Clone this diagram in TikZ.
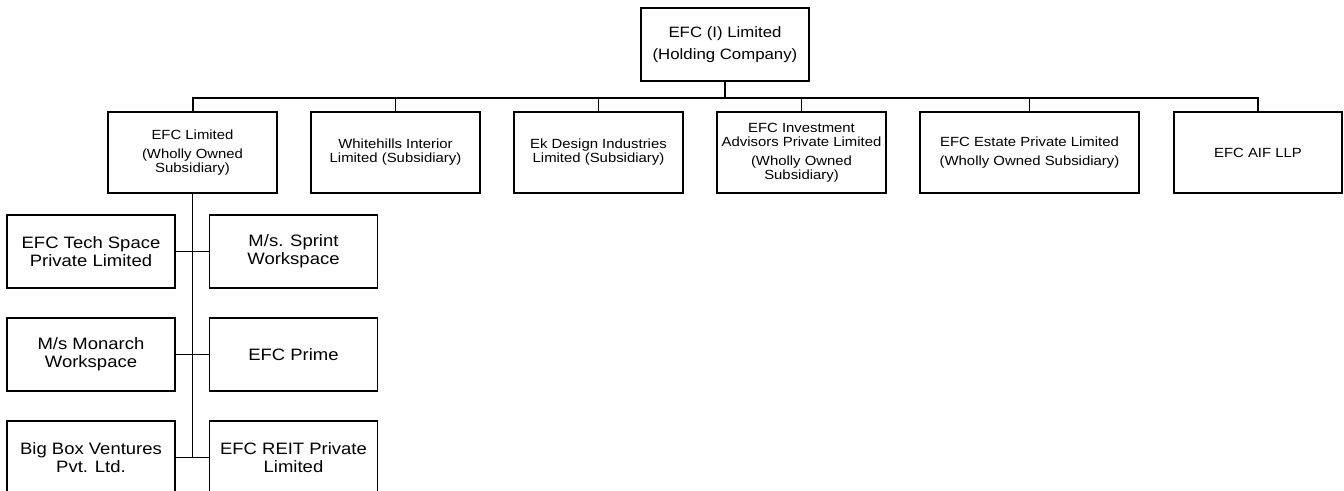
\documentclass[tikz,border=0pt]{standalone}
\usepackage{fontspec}
\setmainfont[FakeStretch=1.12]{Liberation Sans}
\usetikzlibrary{positioning}

\begin{document}
\begin{tikzpicture}[x=1pt,y=-1pt,node distance=203pt,on grid,
	box/.style={draw,line width=1.3pt,align=center,inner sep=0pt},
	top/.style={box,minimum width=168pt,minimum height=73pt,font=\fontsize{15}{22}\selectfont},
	sub/.style={box,minimum width=169pt,minimum height=81pt,font=\fontsize{13.3}{14}\selectfont},
	unit/.style={box,minimum width=168pt,minimum height=73pt,font=\fontsize{16.5}{18}\selectfont},
	link/.style={line width=1.3pt},
	bus/.style={line width=2pt}]
	
	\useasboundingbox (0,0) rectangle (1344,490);
	
	\node (holding) [top] at (725,44.5) {EFC (I) Limited\\(Holding Company)};
	
	\node (efcl) [sub] at (192.5,152.5) {EFC Limited\\[5pt](Wholly Owned\\Subsidiary)};
	\node (white) [sub, right of = efcl] {Whitehills Interior\\Limited (Subsidiary)};
	\node (ekd) [sub, right of = white] {Ek Design Industries\\Limited (Subsidiary)};
	\node (inv) [sub, right of = ekd] {EFC Investment\\Advisors Private Limited\\[5pt](Wholly Owned\\Subsidiary)};
	\node (estate) [sub, minimum width=219pt, right=228pt of inv] {EFC Estate Private Limited\\[5pt](Wholly Owned Subsidiary)};
	\node (aif) [sub, minimum width=168pt, right=228.5pt of estate] {EFC AIF LLP};
	
	\node (tech) [unit] at (91,251.5) {EFC Tech Space\\Private Limited};
	\node (sprint) [unit, right=202.5pt of tech] {M/s. Sprint\\Workspace};
	\node (monarch) [unit, below=103pt of tech] {M/s Monarch\\Workspace};
	\node (prime) [unit, right=202.5pt of monarch] {EFC Prime};
	\node (bigbox) [unit, below=103pt of monarch] {Big Box Ventures\\Pvt. Ltd.};
	\node (reit) [unit, right=202.5pt of bigbox] {EFC REIT Private\\Limited};
	
	\coordinate (busmid) at ([yshift=-16pt]holding.south);
	
	\draw [bus] (holding.south) -- (busmid);
	\draw [bus] (efcl.north) |- (busmid) -| (aif.north);
	\foreach \n in {white,ekd,inv,estate}
		\draw [link] (\n.north) -- (\n.north |- busmid);
	
	\draw [link] (efcl.south) -- (efcl.south |- bigbox.east);
	\foreach \l/\r in {tech/sprint,monarch/prime,bigbox/reit}
		\draw [link] (\l.east) -- (\r.west);
\end{tikzpicture}
\end{document}
